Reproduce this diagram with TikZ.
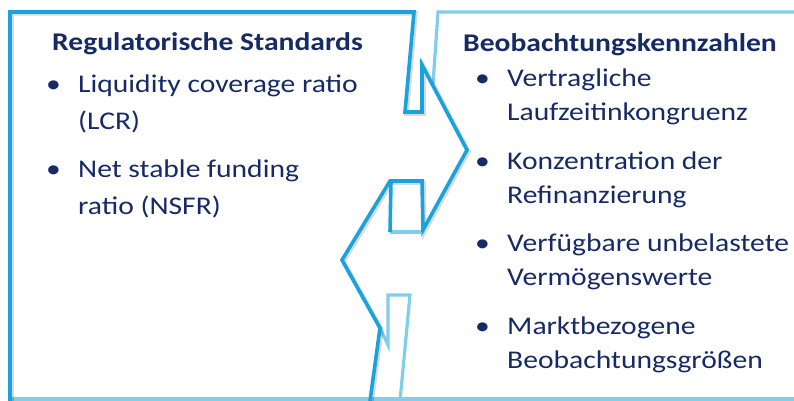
\documentclass[tikz,border=0pt]{standalone}
\usepackage{fontspec}
\setmainfont{Carlito}[FakeStretch=1.16]
\usetikzlibrary{positioning}
\definecolor{navy}{RGB}{22,42,102}
\definecolor{cyandark}{RGB}{24,163,222}
\definecolor{cyanlight}{RGB}{128,206,236}
\tikzset{
  edgeL/.style = {draw=cyandark, line width=3.6pt},
  edgeR/.style = {draw=cyanlight, line width=3.2pt},
  shade/.style = {draw=black, opacity=.15, line width=4.5pt},
  head/.style = {anchor=base west, inner sep=0pt, text=navy,
    font=\fontsize{25.5}{35}\selectfont\bfseries},
  item/.style = {anchor=north west, inner sep=0pt, align=left, text=navy,
    font=\fontsize{25.5}{37}\selectfont},
  tight/.style = {font=\fontsize{25.5}{34}\selectfont},
  dot/.style = {anchor=north east, inner sep=0pt, text=navy}
}

\begin{document}
\begin{tikzpicture}[x=1pt, y=-1pt]
\useasboundingbox (0,0) rectangle (794,401);

% right frame (mostly hidden behind the left one)
\draw[edgeR] (794,12) -- (438,12) -- (433,84);
\draw[edgeR] (390,232) -- (421,232);
\draw[edgeR] (380,328) -- (388,345) -- (388,295) -- (410,295) -- (400,401);
\draw[edgeR] (8,399) -- (794,399);

% left frame with arrow and notch
\begin{scope}[xshift=1.5pt, yshift=-1.5pt]
\draw[shade] (10,401) -- (10,12) -- (414,12) -- (405,112) -- (422,112) -- (422,65)
  -- (467,150) -- (423,230) -- (422,181) -- (390,181) -- (342,260) -- (380,328) -- (370,401);
\end{scope}
\draw[edgeL] (10,401) -- (10,12) -- (414,12) -- (405,112) -- (422,112) -- (422,65)
  -- (467,150) -- (423,230) -- (422,181) -- (390,181) -- (342,260) -- (380,328) -- (370,401);
\draw[edgeL] (391,181) -- (390,232);

% left column
\node[head] (lhead) at (52,51) {Regulatorische Standards};
\node[item] (lcr) at (78,66) {\strut Liquidity coverage ratio\\(LCR)\strut};
\node[item, below=11pt of lcr.south west, anchor=north west] (nsfr) {\strut Net stable funding\\ratio (NSFR)\strut};
\node[left=17pt of lcr.north west, dot, font=\fontsize{25.5}{37}\selectfont] (b1) {\strut\textbullet};
\node[left=17pt of nsfr.north west, dot, font=\fontsize{25.5}{37}\selectfont] (b2) {\strut\textbullet};

% right column
\node[head] (rhead) at (463,52) {Beobachtungskennzahlen};
\node[item, tight] (mism) at (507,63) {\strut Vertragliche\\Laufzeitinkongruenz\strut};
\node[item, tight, below=14pt of mism.south west, anchor=north west] (conc) {\strut Konzentration der\\Refinanzierung\strut};
\node[item, tight, below=14pt of conc.south west, anchor=north west] (assets) {\strut Verfügbare unbelastete\\Vermögenswerte\strut};
\node[item, tight, below=14pt of assets.south west, anchor=north west] (market) {\strut Marktbezogene\\Beobachtungsgrößen\strut};
\node[left=17pt of mism.north west, dot, tight] (b3) {\strut\textbullet};
\node[left=17pt of conc.north west, dot, tight] (b4) {\strut\textbullet};
\node[left=17pt of assets.north west, dot, tight] (b5) {\strut\textbullet};
\node[left=17pt of market.north west, dot, tight] (b6) {\strut\textbullet};
\end{tikzpicture}
\end{document}
